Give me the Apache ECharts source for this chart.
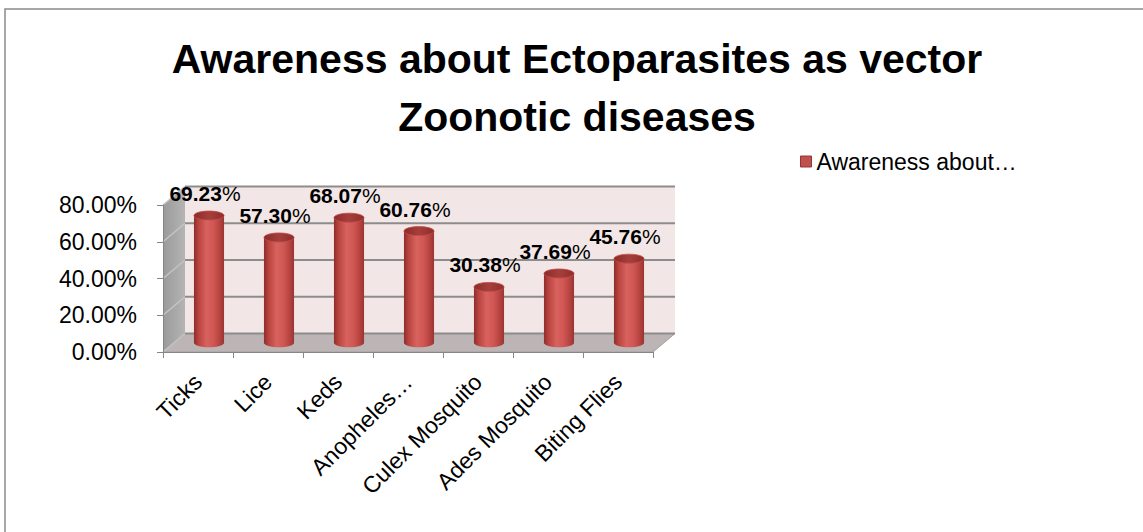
<!DOCTYPE html>
<html><head><meta charset="utf-8">
<script src="https://cdn.jsdelivr.net/npm/echarts@6/dist/echarts.min.js"></script>
<style>html,body{margin:0;padding:0;background:#fff}#c{width:1143px;height:532px}</style>
</head><body><div id="c"></div>
<script>
const categories = ['Ticks', 'Lice', 'Keds', 'Anopheles Mosquito', 'Culex Mosquito', 'Ades Mosquito', 'Biting Flies'];
const tickLabels = ['Ticks', 'Lice', 'Keds', 'Anopheles…', 'Culex Mosquito', 'Ades Mosquito', 'Biting Flies'];
const awareness = [69.23, 57.30, 68.07, 60.76, 30.38, 37.69, 45.76];
const yTicks = [0, 20, 40, 60, 80];
const seriesName = 'Awareness about Ectoparasites as vector Zoonotic diseases';
const legendLabel = 'Awareness about…';
const titleText = 'Awareness about Ectoparasites as vector\nZoonotic diseases';

const DX = 22, DY = -18.5;
const FONT = '"Liberation Sans", Arial, sans-serif';
const chart = echarts.init(document.getElementById('c'), null, {renderer: 'svg'});

function renderWalls(params, api) {
  const cs = params.coordSys;
  const x0 = cs.x, x1 = cs.x + cs.width, yTop = cs.y, yBot = cs.y + cs.height;
  const ch = [];
  ch.push({type: 'polygon', shape: {points: [[x0 + DX, yTop + DY], [x1 + DX, yTop + DY], [x1 + DX, yBot + DY], [x0 + DX, yBot + DY]]},
    style: {fill: '#F3E6E6'}});
  ch.push({type: 'polygon', shape: {points: [[x0, yTop], [x0 + DX, yTop + DY], [x0 + DX, yBot + DY], [x0, yBot]]},
    style: {fill: new echarts.graphic.LinearGradient(0, 0, 1, 0, [{offset: 0, color: '#9A9A9A'}, {offset: 1, color: '#B4B4B4'}])}});
  ch.push({type: 'polygon', shape: {points: [[x0, yBot], [x0 + DX, yBot + DY], [x1 + DX, yBot + DY], [x1, yBot]]},
    style: {fill: '#BDB5B5', stroke: '#A0A0A0', lineWidth: 1}});
  yTicks.forEach(v => {
    const y = api.coord([0, v])[1];
    ch.push({type: 'line', shape: {x1: x0, y1: y, x2: x0 + DX, y2: y + DY}, style: {stroke: '#C4C4C4', lineWidth: 1.5}});
    ch.push({type: 'line', shape: {x1: x0 + DX, y1: y + DY, x2: x1 + DX, y2: y + DY}, style: {stroke: '#8C8C8C', lineWidth: 2}});
  });
  return {type: 'group', children: ch};
}

function renderCylinder(params, api) {
  const i = api.value(0), v = api.value(1);
  const base = api.coord([i, 0]), top = api.coord([i, v]);
  const bw = api.size([1, 0])[0] * 0.43;
  const cx = base[0] + DX / 2, by = base[1] + DY / 2, ty = top[1] + DY / 2;
  const ry = 4.5;
  const body = new echarts.graphic.LinearGradient(0, 0, 1, 0, [
    {offset: 0, color: '#8E2D2A'}, {offset: 0.15, color: '#B8433F'}, {offset: 0.42, color: '#D8625E'},
    {offset: 0.65, color: '#D05753'}, {offset: 0.88, color: '#B2413E'}, {offset: 1, color: '#983532'}]);
  const cap = new echarts.graphic.LinearGradient(0, 0, 1, 0, [
    {offset: 0, color: '#8A2C29'}, {offset: 0.5, color: '#A63F3C'}, {offset: 1, color: '#8E2E2B'}]);
  const num = v.toFixed(2);
  return {type: 'group', children: [
    {type: 'ellipse', shape: {cx: cx, cy: by, rx: bw / 2, ry: ry}, style: {fill: body}},
    {type: 'rect', shape: {x: cx - bw / 2, y: ty, width: bw, height: by - ty}, style: {fill: body}},
    {type: 'ellipse', shape: {cx: cx, cy: ty, rx: bw / 2, ry: ry}, style: {fill: cap, stroke: '#C24E4A', lineWidth: 0.8}},
    {type: 'text', x: cx - 4, y: ty - 22, z2: 50, style: {
      text: '{b|' + num + '}{p|%}', align: 'center', verticalAlign: 'middle',
      rich: {
        b: {fontFamily: FONT, fontSize: 21, fontWeight: 'bold', fill: '#000', color: '#000'},
        p: {fontFamily: FONT, fontSize: 21, fontWeight: 'normal', fill: '#000', color: '#000'}
      }}}
  ]};
}

const option = {
  animation: false,
  backgroundColor: '#fff',
  title: {
    text: titleText, left: 577, top: 30, padding: 0, textAlign: 'center',
    textStyle: {fontFamily: FONT, fontSize: 41, fontWeight: 'bold', color: '#000', lineHeight: 58}
  },
  legend: {
    data: [seriesName], left: 795, top: 145, icon: 'rect', itemWidth: 11, itemHeight: 11,
    formatter: () => legendLabel,
    itemStyle: {color: '#C0504D', borderColor: '#943634', borderWidth: 1},
    textStyle: {fontFamily: FONT, fontSize: 23, color: '#000'}
  },
  graphic: [{type: 'rect', x: 5, y: 9, shape: {x: 0, y: 0, width: 1200, height: 600},
    style: {fill: 'none', stroke: '#8A8A8A', lineWidth: 1.5}, z: 100, silent: true}],
  grid: {left: 163, top: 205, width: 490, height: 147, containLabel: false},
  xAxis: {
    type: 'category', data: categories, boundaryGap: true, z: 5,
    axisLine: {lineStyle: {color: '#868686', width: 1}},
    axisTick: {show: true, length: 6, lineStyle: {color: '#868686'}},
    axisLabel: {interval: 0, rotate: 45, margin: 26, fontFamily: FONT, fontSize: 23, color: '#000',
      formatter: (val, idx) => tickLabels[idx]}
  },
  yAxis: {
    type: 'value', min: 0, max: 80, interval: 20, z: 5,
    axisLine: {show: true, lineStyle: {color: '#868686', width: 1}},
    axisTick: {show: true, length: 6, lineStyle: {color: '#868686'}},
    splitLine: {show: false},
    axisLabel: {margin: 26, fontFamily: FONT, fontSize: 23, color: '#000', formatter: v => v.toFixed(2) + '%'}
  },
  series: [
    {type: 'custom', name: 'walls', z: 1, silent: true, renderItem: renderWalls, data: [[0, 0]], clip: false},
    {type: 'custom', name: seriesName, z: 2, renderItem: renderCylinder, clip: false,
      itemStyle: {color: '#C0504D'},
      data: awareness.map((v, i) => [i, v])}
  ]
};
chart.setOption(option);
</script></body></html>
